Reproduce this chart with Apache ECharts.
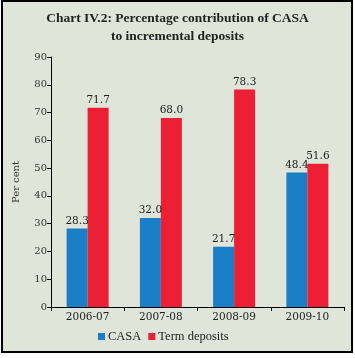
<!DOCTYPE html>
<html><head><meta charset="utf-8">
<script src="https://cdn.jsdelivr.net/npm/echarts@6/dist/echarts.min.js"></script>
<style>html,body{margin:0;padding:0;background:#fff}#c{width:355px;height:358px}</style>
</head><body><div id="c"></div>
<script>
const categories = ['2006-07', '2007-08', '2008-09', '2009-10'];
const casa = [28.3, 32.0, 21.7, 48.4];
const termDeposits = [71.7, 68.0, 78.3, 51.6];
const yTicks = [0, 10, 20, 30, 40, 50, 60, 70, 80, 90];

const serif = '"DejaVu Serif", "Liberation Serif", serif';
const times = '"Liberation Serif", serif';
const chart = echarts.init(document.getElementById('c'), null, {renderer: 'canvas'});
const labelStyle = {show: true, position: 'top', distance: 2, color: '#222', fontFamily: serif, fontSize: 10.5,
  formatter: p => p.value.toFixed(1)};
chart.setOption({
  backgroundColor: '#fff',
  animation: false,
  graphic: [{type: 'rect', z: -10, shape: {x: 2, y: 1, width: 350, height: 351},
    style: {fill: '#dfe6d9', stroke: '#000', lineWidth: 2}}],
  title: {text: 'Chart IV.2: Percentage contribution of CASA\nto incremental deposits', left: 'center', top: 5,
    textStyle: {fontFamily: times, fontWeight: 'bold', fontSize: 13.5, lineHeight: 18, color: '#222'}},
  grid: {left: 51, right: 11, top: 57, bottom: 51, containLabel: false},
  legend: {bottom: 10, left: 93, itemWidth: 7, itemHeight: 7, itemGap: 7, icon: 'rect',
    textStyle: {fontFamily: times, fontSize: 12.5, color: '#222', padding: [0, 0, 0, -2]}, data: ['CASA', 'Term deposits']},
  xAxis: {type: 'category', data: categories,
    axisLine: {lineStyle: {color: '#000', width: 1}},
    axisTick: {show: true, length: 4, lineStyle: {color: '#000'}},
    axisLabel: {fontFamily: serif, fontSize: 10.5, color: '#222', margin: 5}},
  yAxis: {type: 'value', min: yTicks[0], max: yTicks[yTicks.length - 1], interval: 10,
    name: 'Per cent', nameLocation: 'middle', nameGap: 30, nameRotate: 90,
    nameTextStyle: {fontFamily: serif, fontSize: 10, color: '#333'},
    axisLine: {show: true, lineStyle: {color: '#000', width: 1}},
    axisTick: {show: true, length: 4, lineStyle: {color: '#000'}},
    splitLine: {show: false},
    axisLabel: {fontFamily: serif, fontSize: 10, color: '#333', margin: 4}},
  series: [
    {name: 'CASA', type: 'bar', data: casa, barWidth: 21, barGap: '0%', itemStyle: {color: '#1b7fc7'}, label: labelStyle},
    {name: 'Term deposits', type: 'bar', data: termDeposits, barWidth: 21, itemStyle: {color: '#ec1f34'}, label: labelStyle}
  ]
});
</script></body></html>
